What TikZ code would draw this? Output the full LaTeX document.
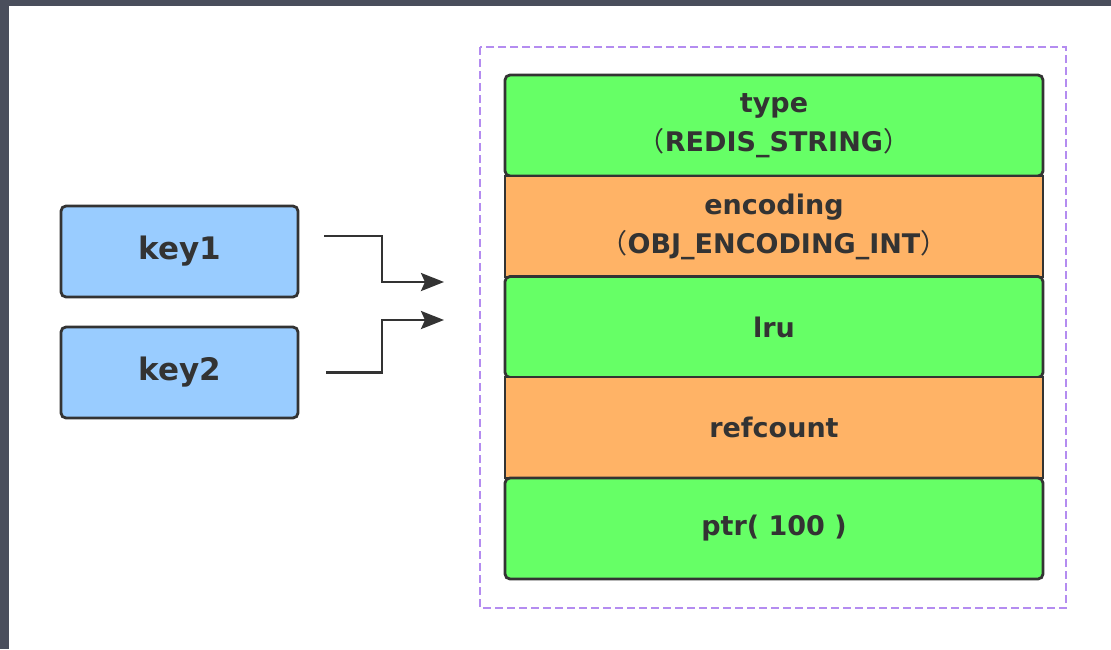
\documentclass[tikz,border=0pt]{standalone}
\usepackage{fontspec}
\setmainfont{DejaVu Sans}
\newfontfamily\cjk{Noto Sans CJK SC}
\usetikzlibrary{arrows.meta}
\definecolor{frame}{HTML}{4A4E5C}
\definecolor{ink}{HTML}{333333}
\definecolor{keyblue}{HTML}{99CCFF}
\definecolor{fgreen}{HTML}{66FF66}
\definecolor{forange}{HTML}{FFB366}
\definecolor{lav}{HTML}{B48CF0}
\newcommand{\lp}{{\cjk\mdseries（}}
\newcommand{\rp}{{\cjk\mdseries）}}
\tikzset{
  keybox/.style={draw=ink, line width=2.8pt, fill=keyblue, rounded corners=5pt,
    minimum width=237pt, minimum height=91pt, inner sep=0pt, text=ink,
    font=\fontsize{31}{36}\selectfont\bfseries},
  rowbox/.style={draw=ink, line width=2.8pt, minimum width=538pt, minimum height=101pt,
    inner sep=0pt, text=ink, align=center, font=\fontsize{27}{39}\selectfont\bfseries},
  greenrow/.style={rowbox, fill=fgreen, rounded corners=5pt},
  orangerow/.style={rowbox, fill=forange},
  link/.style={draw=ink, line width=2.8pt, -{Stealth[length=23pt,width=18pt,inset=4pt]}},
  lavbox/.style={draw=lav, line width=2.6pt, dash pattern=on 8pt off 4pt}
}
\begin{document}
\begin{tikzpicture}[x=1pt,y=-1pt]
\useasboundingbox (0,0) rectangle (1111,649);
\fill[frame] (0,0) rectangle (1111,649);
\fill[white] (9,6) rectangle (1111,649);

\draw[lavbox] (480,47) rectangle (1066,608);

\node[keybox] (key1) at (179.5,251.5) {key1};
\node[keybox] (key2) at (179.5,372.5) {key2};

\node[greenrow] (type) at (774,125.5) {type\\\lp REDIS\_STRING\rp};
\node[orangerow] (enc) at (774,226.5) {encoding\\\lp OBJ\_ENCODING\_INT\rp};
\node[greenrow] (lru) at (774,327) {lru};
\node[orangerow] (ref) at (774,427.5) {refcount};
\node[greenrow] (ptr) at (774,528.5) {ptr( 100 )};

\coordinate (t1) at (444,282);
\coordinate (t2) at (444,320);
\draw[link] ([xshift=25pt,yshift=15.5pt]key1.east) -| (382,282) -- (t1);
\draw[link] ([xshift=27pt]key2.east) -| (382,320) -- (t2);
\end{tikzpicture}
\end{document}
